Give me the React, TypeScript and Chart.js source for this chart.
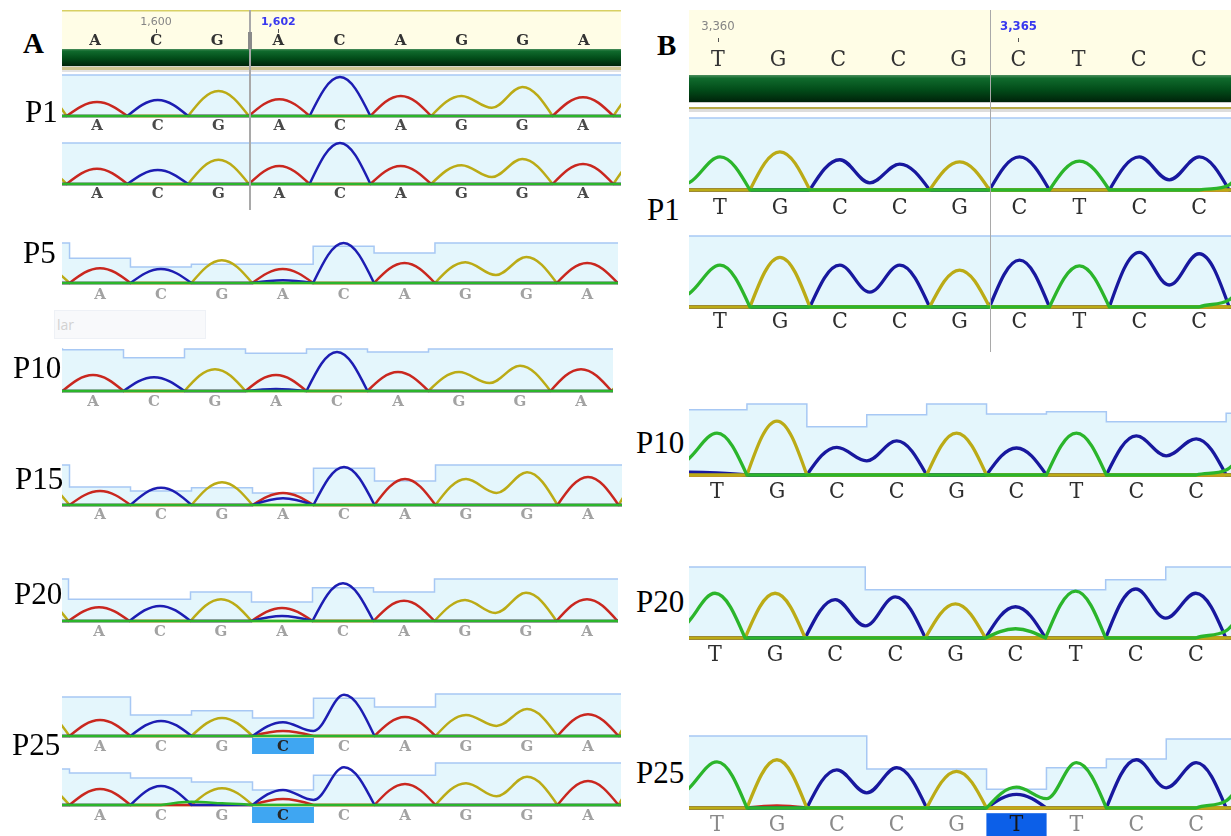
import React, { useEffect, useRef } from 'react';
import { Chart, registerables } from 'chart.js';

Chart.register(...registerables);

// ---------- categories / axes ----------
// trace samples are placed every half base: x = -1, -0.5, 0 (1st base), ... 8 (9th base), 8.5, 9
const HALF_STEPS = [-1, -0.5, 0, 0.5, 1, 1.5, 2, 2.5, 3, 3.5, 4, 4.5, 5, 5.5, 6, 6.5, 7, 7.5, 8, 8.5, 9];
// quality bars change at the mid point between two bases
const QUALITY_EDGES = [-1.5, -0.5, 0.5, 1.5, 2.5, 3.5, 4.5, 5.5, 6.5, 7.5, 8.5, 9.5];

const BASES_A = ['A', 'C', 'G', 'A', 'C', 'A', 'G', 'G', 'A'];
const BASES_A_P25 = ['A', 'C', 'G', 'C', 'C', 'A', 'G', 'G', 'A'];
const BASES_B = ['T', 'G', 'C', 'C', 'G', 'C', 'T', 'C', 'C'];
const BASES_B_P25 = ['T', 'G', 'C', 'C', 'G', 'T', 'T', 'C', 'C'];
const RULER_A = ['', '1,600', '', '1,602', '', '', '', '', ''];
const RULER_B = ['3,360', '', '', '', '', '3,365', '', '', ''];

const ZERO = [0, 0, 0, 0, 0, 0, 0, 0, 0, 0, 0, 0, 0, 0, 0, 0, 0, 0, 0, 0, 0];

// ---------- quality values (pre, 9 bases, post) ----------
const Q_FULL = [1, 1, 1, 1, 1, 1, 1, 1, 1, 1, 1];
const Q_A_P5 = [1, 0.62, 0.4, 0.47, 0.47, 0.92, 0.75, 1, 1, 1, 1];
const Q_A_P10 = [1, 0.98, 0.79, 1, 0.9, 1, 0.93, 1, 1, 1, 1];
const Q_A_P15 = [1, 0.45, 0.35, 0.43, 0.3, 0.92, 0.6, 1, 1, 1, 1];
const Q_A_P20 = [1, 0.52, 0.52, 0.69, 0.45, 0.79, 0.69, 1, 1, 1, 1];
const Q_A_P25a = [0.93, 0.93, 0.5, 0.6, 0.43, 0.9, 0.69, 1, 1, 1, 1];
const Q_A_P25b = [0.86, 0.76, 0.64, 0.55, 0.36, 0.71, 0.71, 1, 1, 1, 1];
const Q_B_P10 = [0.92, 0.92, 1, 0.68, 0.85, 1, 0.86, 0.89, 0.75, 0.75, 0.87];
const Q_B_P20 = [1, 1, 1, 1, 0.68, 0.68, 0.68, 0.68, 0.82, 1, 1];
const Q_B_P25 = [1, 1, 1, 1, 0.54, 0.54, 0.26, 0.56, 0.68, 0.96, 0.96];

// ---------- panel A traces (A = red, C = blue, G = yellow, T = green) ----------
const A_P1a_RED = [0, 0, 0.34, 0, 0, 0, 0, 0, 0.41, 0, 0, 0, 0.49, 0, 0, 0, 0, 0, 0.46, 0, 0];
const A_P1a_BLUE = [0, 0, 0, 0, 0.39, 0, 0, 0, 0, 0, 0.95, 0, 0, 0, 0, 0, 0, 0, 0, 0, 0];
const A_P1a_YEL = [0.69, 0, 0, 0, 0, 0, 0.61, 0, 0, 0, 0, 0, 0, 0, 0.49, 0.2, 0.71, 0, 0, 0, 0.71];

const A_P1b_RED = [0, 0, 0.37, 0, 0, 0, 0, 0, 0.44, 0, 0, 0, 0.44, 0, 0, 0, 0, 0, 0.49, 0, 0];
const A_P1b_BLUE = [0, 0, 0, 0, 0.34, 0, 0, 0, 0, 0, 1.0, 0, 0, 0, 0, 0, 0, 0, 0, 0, 0];
const A_P1b_YEL = [0.46, 0, 0, 0, 0, 0, 0.59, 0, 0, 0, 0, 0, 0, 0, 0.46, 0.17, 0.61, 0, 0, 0, 0.71];

const A_P5_RED = [0, 0, 0.37, 0, 0, 0, 0, 0, 0.35, 0, 0, 0, 0.5, 0, 0, 0, 0, 0, 0.5, 0, 0];
const A_P5_BLUE = [0, 0, 0, 0, 0.35, 0, 0, 0, 0.07, 0, 1.0, 0, 0, 0, 0, 0, 0, 0, 0, 0, 0];
const A_P5_YEL = [0.46, 0, 0, 0, 0, 0, 0.57, 0, 0, 0, 0, 0, 0, 0, 0.52, 0.2, 0.65, 0, 0, 0, 0.5];

const A_P10_RED = [0, 0, 0.38, 0, 0, 0, 0, 0, 0.38, 0, 0, 0, 0.45, 0, 0, 0, 0, 0, 0.52, 0, 0];
const A_P10_BLUE = [0, 0, 0, 0, 0.33, 0, 0, 0, 0.05, 0, 0.93, 0, 0, 0, 0, 0, 0, 0, 0, 0, 0];
const A_P10_YEL = [0, 0, 0, 0, 0, 0, 0.52, 0, 0, 0, 0, 0, 0, 0, 0.45, 0.19, 0.6, 0, 0, 0, 0.5];

const A_P15_RED = [0, 0, 0.35, 0, 0, 0, 0, 0, 0.3, 0, 0, 0, 0.65, 0, 0, 0, 0, 0, 0.7, 0, 0];
const A_P15_BLUE = [0, 0, 0, 0, 0.43, 0, 0, 0, 0.17, 0, 0.95, 0, 0, 0, 0, 0, 0, 0, 0, 0, 0];
const A_P15_YEL = [0.6, 0, 0, 0, 0, 0, 0.57, 0, 0, 0, 0, 0, 0, 0, 0.65, 0.3, 0.82, 0, 0, 0, 0.8];

const A_P20_RED = [0, 0, 0.33, 0, 0, 0, 0, 0, 0.31, 0, 0, 0, 0.48, 0, 0, 0, 0, 0, 0.52, 0, 0];
const A_P20_BLUE = [0, 0, 0, 0, 0.36, 0, 0, 0, 0.12, 0, 0.9, 0, 0, 0, 0, 0, 0, 0, 0, 0, 0];
const A_P20_YEL = [0.59, 0, 0, 0, 0, 0, 0.52, 0, 0, 0, 0, 0, 0, 0, 0.5, 0.19, 0.67, 0, 0, 0, 0.5];

const A_P25a_RED = [0, 0, 0.38, 0, 0, 0, 0, 0, 0.12, 0, 0, 0, 0.45, 0, 0, 0, 0, 0, 0.52, 0, 0];
const A_P25a_BLUE = [0, 0, 0, 0, 0.36, 0, 0, 0, 0.33, 0.12, 0.98, 0, 0, 0, 0, 0, 0, 0, 0, 0, 0];
const A_P25a_YEL = [0.65, 0, 0, 0, 0, 0, 0.43, 0, 0, 0, 0, 0, 0, 0, 0.5, 0.24, 0.64, 0, 0, 0, 0.8];

const A_P25b_RED = [0, 0, 0.38, 0, 0, 0, 0, 0, 0.14, 0, 0, 0, 0.5, 0, 0, 0, 0, 0, 0.57, 0, 0];
const A_P25b_BLUE = [0, 0, 0, 0, 0.45, 0, 0, 0, 0.36, 0.12, 0.9, 0, 0, 0, 0, 0, 0, 0, 0, 0, 0];
const A_P25b_YEL = [0.52, 0, 0, 0, 0, 0, 0.4, 0, 0, 0, 0, 0, 0, 0, 0.52, 0.21, 0.67, 0, 0, 0, 0.8];
const A_P25b_GREEN = [0, 0, 0, 0, 0, 0.08, 0.04, 0, 0, 0, 0, 0, 0, 0, 0, 0, 0, 0, 0, 0, 0];

// ---------- panel B traces ----------
const B_P1a_GREEN = [0, 0.11, 0.46, 0, 0, 0, 0, 0, 0, 0, 0, 0, 0, 0, 0.4, 0, 0, 0, 0, 0.07, 0.5];
const B_P1a_YEL = [0, 0, 0, 0, 0.53, 0, 0, 0, 0, 0, 0.39, 0, 0, 0, 0, 0, 0, 0, 0, 0, 0];
const B_P1a_BLUE = [0, 0, 0, 0, 0, 0, 0.42, 0.1, 0.36, 0, 0, 0, 0.46, 0, 0, 0, 0.46, 0.14, 0.46, 0, 0];

const B_P1b_GREEN = [0, 0.2, 0.59, 0, 0, 0, 0, 0, 0, 0, 0, 0, 0, 0, 0.58, 0, 0, 0, 0, 0.1, 0.5];
const B_P1b_YEL = [0, 0, 0, 0, 0.7, 0, 0, 0, 0, 0, 0.52, 0, 0, 0, 0, 0, 0, 0, 0, 0, 0];
const B_P1b_BLUE = [0, 0, 0, 0, 0, 0, 0.59, 0.21, 0.59, 0, 0, 0, 0.66, 0, 0, 0, 0.77, 0.31, 0.75, 0, 0];

const B_P10_GREEN = [0, 0.21, 0.59, 0, 0, 0, 0, 0, 0, 0, 0, 0, 0, 0, 0.59, 0, 0, 0, 0, 0.07, 0.4];
const B_P10_YEL = [0, 0, 0, 0, 0.76, 0, 0, 0, 0, 0, 0.59, 0, 0, 0, 0, 0, 0, 0, 0, 0, 0];
const B_P10_BLUE = [0, 0.04, 0.03, 0, 0, 0, 0.39, 0.2, 0.48, 0, 0, 0, 0.38, 0, 0, 0, 0.55, 0.27, 0.51, 0, 0];

const B_P20_GREEN = [0, 0.18, 0.63, 0, 0, 0, 0, 0, 0, 0, 0, 0, 0.13, 0, 0.66, 0, 0, 0, 0, 0.1, 0.5];
const B_P20_YEL = [0, 0, 0, 0, 0.63, 0, 0, 0, 0, 0, 0.48, 0, 0, 0, 0, 0, 0, 0, 0, 0, 0];
const B_P20_BLUE = [0, 0, 0, 0, 0, 0, 0.54, 0.17, 0.58, 0, 0, 0, 0.44, 0, 0, 0, 0.69, 0.28, 0.63, 0, 0];

const B_P25_GREEN = [0, 0.25, 0.64, 0, 0, 0, 0, 0, 0, 0, 0, 0, 0.29, 0.13, 0.63, 0, 0, 0, 0, 0.1, 0.5];
const B_P25_YEL = [0, 0, 0, 0, 0.67, 0, 0, 0, 0, 0, 0.51, 0, 0, 0, 0, 0, 0, 0, 0, 0, 0];
const B_P25_BLUE = [0, 0, 0, 0, 0, 0, 0.53, 0.21, 0.56, 0, 0, 0, 0.19, 0, 0, 0, 0.67, 0.28, 0.63, 0, 0];
const B_P25_RED = [0, 0, 0, 0, 0.03, 0, 0, 0, 0, 0, 0, 0, 0, 0, 0, 0, 0, 0, 0, 0, 0];

// ---------- styles ----------
const COL_RED = '#c9271f';
const COL_BLUE = '#1d1db2';
const COL_BLUE_B = '#18189e';
const COL_YEL = '#bbab16';
const COL_GREEN = '#2bb52b';
const QUAL_FILL = '#e4f6fc';
const QUAL_LINE = '#a7c8f4';
const FONT_A = { family: "'DejaVu Serif', serif", size: 15, weight: 'bold' as const };
const FONT_B = { family: "'DejaVu Serif Condensed', 'DejaVu Serif', serif", size: 23, weight: 'normal' as const };
const SERIF = "'Liberation Serif', 'Times New Roman', serif";

type Trace = { data: number[]; color: string };
type TrackDef = {
  left: number; right: number; top: number; base: number; p0: number; s: number;
  bases: string[]; quality: number[]; traces: Trace[];
  font: any; letterColor: string; pad: number; axisH: number; lineW: number;
  mut?: number; mutBox?: string; mutColor?: string; boxPad?: any;
};

// first trace is drawn on top
const aTraces = (red: number[], blue: number[], yel: number[], green: number[] = ZERO): Trace[] => [
  { data: green, color: COL_GREEN },
  { data: blue, color: COL_BLUE },
  { data: red, color: COL_RED },
  { data: yel, color: COL_YEL },
];
const bTraces = (green: number[], blue: number[], yel: number[], red: number[] = ZERO): Trace[] => [
  { data: green, color: COL_GREEN },
  { data: yel, color: COL_YEL },
  { data: blue, color: COL_BLUE_B },
  { data: red, color: COL_RED },
];

const A_COMMON = { left: 62, font: FONT_A, axisH: 22, lineW: 2.5 };
const B_COMMON = { left: 689, right: 1231, font: FONT_B, axisH: 30, lineW: 3.3 };
const A_BOX = { top: 0, bottom: -2, left: 25, right: 25 };
const B_BOX = { top: -2, bottom: 4, left: 23.2, right: 23.2 };

const TRACKS: TrackDef[] = [
  { ...A_COMMON, right: 621, top: 75, base: 116, p0: 97, s: 60.75, bases: BASES_A, quality: Q_FULL,
    traces: aTraces(A_P1a_RED, A_P1a_BLUE, A_P1a_YEL), letterColor: '#4a4a4a', pad: 1 },
  { ...A_COMMON, right: 621, top: 143, base: 184, p0: 97, s: 60.75, bases: BASES_A, quality: Q_FULL,
    traces: aTraces(A_P1b_RED, A_P1b_BLUE, A_P1b_YEL), letterColor: '#4a4a4a', pad: 1 },
  { ...A_COMMON, right: 618, top: 243, base: 283, p0: 100, s: 60.9, bases: BASES_A, quality: Q_A_P5,
    traces: aTraces(A_P5_RED, A_P5_BLUE, A_P5_YEL), letterColor: '#a2a2a2', pad: 3 },
  { ...A_COMMON, right: 613, top: 349, base: 391, p0: 93, s: 61, bases: BASES_A, quality: Q_A_P10,
    traces: aTraces(A_P10_RED, A_P10_BLUE, A_P10_YEL), letterColor: '#a2a2a2', pad: 2 },
  { ...A_COMMON, right: 622, top: 465, base: 505, p0: 100, s: 61, bases: BASES_A, quality: Q_A_P15,
    traces: aTraces(A_P15_RED, A_P15_BLUE, A_P15_YEL), letterColor: '#a2a2a2', pad: 1 },
  { ...A_COMMON, right: 618, top: 579, base: 621, p0: 99, s: 61, bases: BASES_A, quality: Q_A_P20,
    traces: aTraces(A_P20_RED, A_P20_BLUE, A_P20_YEL), letterColor: '#a2a2a2', pad: 2 },
  { ...A_COMMON, right: 621, top: 694, base: 736, p0: 100, s: 61, bases: BASES_A_P25, quality: Q_A_P25a,
    traces: aTraces(A_P25a_RED, A_P25a_BLUE, A_P25a_YEL), letterColor: '#a2a2a2', pad: 2,
    mut: 3, mutBox: '#3fa6f2', mutColor: '#262626', boxPad: A_BOX },
  { ...A_COMMON, right: 621, top: 763, base: 805, p0: 100, s: 61, bases: BASES_A_P25, quality: Q_A_P25b,
    traces: aTraces(A_P25b_RED, A_P25b_BLUE, A_P25b_YEL, A_P25b_GREEN), letterColor: '#a2a2a2', pad: 2,
    mut: 3, mutBox: '#3fa6f2', mutColor: '#262626', boxPad: A_BOX },
  { ...B_COMMON, top: 118, base: 190, p0: 720, s: 59.9, bases: BASES_B, quality: Q_FULL,
    traces: bTraces(B_P1a_GREEN, B_P1a_BLUE, B_P1a_YEL), letterColor: '#2e2e2e', pad: 4.2 },
  { ...B_COMMON, top: 236, base: 307, p0: 720, s: 59.9, bases: BASES_B, quality: Q_FULL,
    traces: bTraces(B_P1b_GREEN, B_P1b_BLUE, B_P1b_YEL), letterColor: '#2e2e2e', pad: 1.2 },
  { ...B_COMMON, top: 404, base: 475, p0: 717, s: 59.9, bases: BASES_B, quality: Q_B_P10,
    traces: bTraces(B_P10_GREEN, B_P10_BLUE, B_P10_YEL), letterColor: '#2e2e2e', pad: 3.2 },
  { ...B_COMMON, top: 567, base: 638, p0: 715, s: 60.1, bases: BASES_B, quality: Q_B_P20,
    traces: bTraces(B_P20_GREEN, B_P20_BLUE, B_P20_YEL), letterColor: '#2e2e2e', pad: 3.2 },
  { ...B_COMMON, top: 736, base: 808, p0: 717, s: 59.9, bases: BASES_B_P25, quality: Q_B_P25,
    traces: bTraces(B_P25_GREEN, B_P25_BLUE, B_P25_YEL, B_P25_RED), letterColor: '#8a8a8a', pad: 3.2,
    mut: 5, mutBox: '#0c5fe8', mutColor: '#161616', boxPad: B_BOX },
];

const TOP_PAD = 4;

// Curve style: chromatogram peaks leave the baseline with a corner and have rounded tops
// (half-sine arches). Chart.js computes the bezier control points; this plugin reshapes them.
const SINE_X = 0.3343;
const SINE_Y = 0.5251;
const TOP_X = 0.3634;
const archPlugin = {
  id: 'archPeaks',
  beforeDatasetDraw(chart: any, args: any) {
    const ds = chart.data.datasets[args.index];
    if (!ds.arch) return;
    const line = args.meta.dataset;
    line.updateControlPoints(chart.chartArea, 'x');
    const pts = args.meta.data;
    const vals: number[] = ds.data.map((d: any) => d.y);
    const n = pts.length;
    for (let i = 0; i < n; i++) {
      const p = pts[i];
      p.cp1x = p.x; p.cp1y = p.y; p.cp2x = p.x; p.cp2y = p.y;
    }
    for (let i = 0; i < n - 1; i++) {
      const P = pts[i];
      const Q = pts[i + 1];
      const vp = vals[i];
      const vq = vals[i + 1];
      const dx = Q.x - P.x;
      const dy = Q.y - P.y;
      const vPrev = i > 0 ? vals[i - 1] : vp;
      const vNext = i + 2 < n ? vals[i + 2] : vq;
      const pExt = (vp - vPrev) * (vq - vp) <= 0;
      const qExt = (vq - vp) * (vNext - vq) <= 0;
      if (vp === 0 && vq > 0) { P.cp2x = P.x + SINE_X * dx; P.cp2y = P.y + SINE_Y * dy; }
      else if (pExt) { P.cp2x = P.x + TOP_X * dx; P.cp2y = P.y; }
      else {
        const R = pts[i - 1];
        const sl = (Q.y - R.y) / (Q.x - R.x);
        P.cp2x = P.x + dx / 3; P.cp2y = P.y + (sl * dx) / 3;
      }
      if (vq === 0 && vp > 0) { Q.cp1x = Q.x - SINE_X * dx; Q.cp1y = Q.y - SINE_Y * dy; }
      else if (qExt) { Q.cp1x = Q.x - TOP_X * dx; Q.cp1y = Q.y; }
      else {
        const S = pts[i + 2];
        const sl = (S.y - P.y) / (S.x - P.x);
        Q.cp1x = Q.x - dx / 3; Q.cp1y = Q.y - (sl * dx) / 3;
      }
    }
  },
};

function trackConfig(t: TrackDef): any {
  const min = (t.left - t.p0) / t.s;
  const max = (t.right - t.p0) / t.s;
  const datasets: any[] = [
    {
      data: QUALITY_EDGES.map((x, i) => ({ x, y: t.quality[Math.min(i, t.quality.length - 1)] })),
      stepped: 'before', fill: 'origin', backgroundColor: QUAL_FILL, borderColor: QUAL_LINE,
      borderWidth: 1.5, pointRadius: 0, order: 100, clip: false,
    },
    ...t.traces.map((tr, i) => ({
      data: HALF_STEPS.map((x, k) => ({ x, y: tr.data[k] })),
      arch: true,
      borderColor: tr.color, borderWidth: t.lineW, pointRadius: 0, fill: false,
      tension: 0.4, capBezierPoints: false, order: i, clip: false,
      borderJoinStyle: 'round', borderCapStyle: 'round',
    })),
  ];
  return {
    type: 'line',
    data: { datasets },
    plugins: [archPlugin],
    options: {
      animation: false, responsive: false, maintainAspectRatio: false, devicePixelRatio: 1,
      events: [],
      layout: { padding: { top: TOP_PAD, left: 0, right: 0, bottom: 0 } },
      plugins: { legend: { display: false }, tooltip: { enabled: false } },
      scales: {
        x: {
          type: 'linear', position: 'bottom', min, max,
          grid: { display: false, drawTicks: false }, border: { display: false },
          afterBuildTicks: (s: any) => { s.ticks = t.bases.map((_, i) => ({ value: i })); },
          afterFit: (s: any) => { s.height = t.axisH; },
          ticks: {
            autoSkip: false, maxRotation: 0, minRotation: 0, padding: t.pad, font: t.font,
            callback: (v: number) => t.bases[v] ?? '',
            color: (c: any) => (c.index === t.mut ? t.mutColor : t.letterColor),
            showLabelBackdrop: (c: any) => c.index === t.mut,
            backdropColor: (c: any) => (c.index === t.mut ? t.mutBox : 'rgba(0,0,0,0)'),
            backdropPadding: t.boxPad || 0,
          },
        },
        y: { type: 'linear', min: 0, max: 1, display: false },
      },
    },
  };
}

type HeaderDef = {
  left: number; right: number; top: number; barTop: number; barBottom: number; bottom: number;
  p0: number; s: number; bases: string[]; ruler: string[]; rulerIdx: number[]; current: number;
  letterH: number; rulerH: number; letterFont: any; letterPad: number; rulerFont: any; rulerPad: number;
  topLine: boolean; strips: [number, number, string][];
};

const HEADERS: HeaderDef[] = [
  {
    left: 62, right: 621, top: 10, barTop: 49, barBottom: 66, bottom: 73, p0: 95, s: 61.1,
    bases: BASES_A, ruler: RULER_A, rulerIdx: [1, 3], current: 3,
    letterH: 16, rulerH: 23, letterFont: FONT_A, letterPad: -1,
    rulerFont: { family: "'DejaVu Sans', sans-serif", size: 11 }, rulerPad: 0, topLine: true,
    strips: [[0, 1, '#d6d6cc'], [1, 3, '#cfc591'], [4, 2, '#e3e3e3']],
  },
  {
    left: 689, right: 1231, top: 10, barTop: 75, barBottom: 102, bottom: 114, p0: 718, s: 60.1,
    bases: BASES_B, ruler: RULER_B, rulerIdx: [0, 5], current: 5,
    letterH: 33, rulerH: 32, letterFont: FONT_B, letterPad: 1.2,
    rulerFont: { family: "'DejaVu Sans Condensed', 'DejaVu Sans', sans-serif", size: 13 }, rulerPad: 3.2, topLine: false,
    strips: [[0, 1, '#c9c9c9'], [5, 2, '#b6a846'], [7, 3, '#dddddd']],
  },
];

function headerConfig(h: HeaderDef): any {
  const min = (h.left - h.p0) / h.s;
  const max = (h.right - h.p0) / h.s;
  const paint = {
    id: 'headerPaint',
    beforeDraw(chart: any) {
      const { ctx, chartArea: a, width } = chart;
      ctx.save();
      ctx.fillStyle = '#fffde6';
      ctx.fillRect(0, 0, width, a.top);
      if (h.topLine) { ctx.fillStyle = '#d8d064'; ctx.fillRect(0, 0, width, 1.5); }
      const g = ctx.createLinearGradient(0, a.top, 0, a.bottom);
      g.addColorStop(0, '#4d8f5e');
      g.addColorStop(0.12, '#106b2d');
      g.addColorStop(0.55, '#024c19');
      g.addColorStop(1, '#00230a');
      ctx.fillStyle = g;
      ctx.fillRect(0, a.top, width, a.bottom - a.top);
      h.strips.forEach(([y0, hh, c]) => { ctx.fillStyle = c; ctx.fillRect(0, a.bottom + y0, width, hh); });
      ctx.restore();
    },
  };
  return {
    type: 'line',
    data: { datasets: [] },
    plugins: [paint],
    options: {
      animation: false, responsive: false, maintainAspectRatio: false, devicePixelRatio: 1, events: [],
      layout: { padding: { top: 0, left: 0, right: 0, bottom: h.bottom - h.barBottom } },
      plugins: { legend: { display: false }, tooltip: { enabled: false } },
      scales: {
        x: {
          type: 'linear', position: 'top', min, max, weight: 0,
          grid: { display: false, drawTicks: false }, border: { display: false },
          afterBuildTicks: (s: any) => { s.ticks = h.bases.map((_, i) => ({ value: i })); },
          afterFit: (s: any) => { s.height = h.letterH; },
          ticks: {
            autoSkip: false, maxRotation: 0, minRotation: 0, padding: h.letterPad, font: h.letterFont,
            color: '#333333', callback: (v: number) => h.bases[v] ?? '',
          },
        },
        x2: {
          type: 'linear', axis: 'x', position: 'top', min, max, weight: 1,
          grid: { display: true, drawOnChartArea: false, drawTicks: true, tickLength: 4, tickColor: '#555555', tickWidth: 1 },
          border: { display: false },
          afterBuildTicks: (s: any) => { s.ticks = h.rulerIdx.map((i) => ({ value: i })); },
          afterFit: (s: any) => { s.height = h.rulerH; },
          ticks: {
            autoSkip: false, maxRotation: 0, minRotation: 0, padding: h.rulerPad,
            font: (c: any) => ({ ...h.rulerFont, weight: c.tick && c.tick.value === h.current ? 'bold' : 'normal' }),
            color: (c: any) => (c.tick && c.tick.value === h.current ? '#3838ef' : '#858585'),
            callback: (v: number) => h.ruler[v] ?? '',
          },
        },
        y: { type: 'linear', min: 0, max: 1, display: false },
      },
    },
  };
}

function ChartBox({ left, top, width, height, make }: { left: number; top: number; width: number; height: number; make: () => any }) {
  const ref = useRef<HTMLCanvasElement>(null);
  useEffect(() => {
    const chart = new Chart(ref.current as HTMLCanvasElement, make());
    return () => chart.destroy();
  }, []);
  return (
    <canvas ref={ref} width={width} height={height}
      style={{ position: 'absolute', left, top, width, height }} />
  );
}

const LABELS: { text: string; x: number; y: number; bold?: boolean }[] = [
  { text: 'A', x: 23, y: 53, bold: true },
  { text: 'B', x: 657, y: 55, bold: true },
  { text: 'P1', x: 25, y: 122 },
  { text: 'P5', x: 23, y: 263 },
  { text: 'P10', x: 13, y: 378 },
  { text: 'P15', x: 15, y: 489 },
  { text: 'P20', x: 14, y: 604 },
  { text: 'P25', x: 12, y: 755 },
  { text: 'P1', x: 647, y: 220 },
  { text: 'P10', x: 636, y: 453 },
  { text: 'P20', x: 636, y: 612 },
  { text: 'P25', x: 636, y: 783 },
];

export default function App() {
  return (
    <div style={{ position: 'absolute', left: 0, top: 0, width: 1231, height: 836, overflow: 'hidden', background: '#ffffff' }}>
      {HEADERS.map((h, i) => (
        <ChartBox key={'h' + i} left={h.left} top={h.top} width={h.right - h.left} height={h.bottom - h.top}
          make={() => headerConfig(h)} />
      ))}
      {TRACKS.map((t, i) => (
        <ChartBox key={'t' + i} left={t.left} top={t.top - TOP_PAD} width={t.right - t.left}
          height={TOP_PAD + (t.base - t.top) + t.axisH} make={() => trackConfig(t)} />
      ))}
      {/* cursor lines */}
      <div style={{ position: 'absolute', left: 249, top: 10, width: 2, height: 200, background: '#a9a9a9' }} />
      <div style={{ position: 'absolute', left: 248, top: 32, width: 4, height: 17, background: '#8a8a8a' }} />
      <div style={{ position: 'absolute', left: 989.5, top: 10, width: 1.5, height: 342, background: '#a9a9a9' }} />
      {/* faded tooltip remnant */}
      <div style={{ position: 'absolute', left: 54, top: 310, width: 152, height: 29, background: '#f8f9fb',
        border: '1px solid #eef1f6', boxSizing: 'border-box', fontFamily: "'Open Sans', sans-serif", fontSize: 14,
        color: '#d2d2d2', lineHeight: '27px', paddingLeft: 2 }}>lar</div>
      {LABELS.map((l, i) => {
        const size = l.bold ? 29 : 31;
        return (
          <div key={'l' + i} style={{ position: 'absolute', left: l.x, top: l.y - 0.8375 * size, fontFamily: SERIF,
            fontSize: size, lineHeight: size + 'px', fontWeight: l.bold ? 'bold' : 'normal', color: '#000', whiteSpace: 'nowrap' }}>
            {l.text}
          </div>
        );
      })}
    </div>
  );
}
